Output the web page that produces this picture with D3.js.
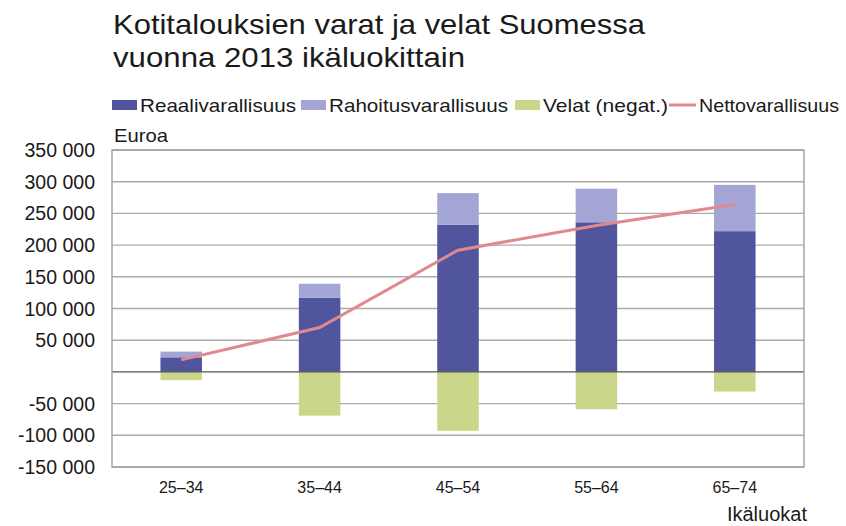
<!DOCTYPE html>
<html>
<head>
<meta charset="utf-8">
<script src="https://cdn.jsdelivr.net/npm/d3@7"></script>
<style>
  body { margin: 0; background: #fff; }
  text { font-family: "Liberation Sans", Arial, sans-serif; fill: #1a1a1a; }
</style>
</head>
<body>
<div id="chart"></div>
<script>
// data
var categories = ["25–34", "35–44", "45–54", "55–64", "65–74"];
var reaali = [23000, 117000, 232000, 236000, 222000];
var rahoitus = [9000, 22000, 50000, 53000, 73000];
var velat = [-13000, -69000, -93000, -59000, -31000];
var netto = [19000, 70000, 192000, 231000, 264000];
var yTicks = [-150000, -100000, -50000, 0, 50000, 100000, 150000, 200000, 250000, 300000, 350000];

var colors = {
    reaali: "#50559e",
    rahoitus: "#a3a5d4",
    velat: "#cad68a",
    netto: "#e0898e"
};

function drawChart() {
    var width = 846, height = 526;
    var margin = {top: 150, right: 42, bottom: 59, left: 112};

    var svg = d3.select("#chart")
      .append("svg")
        .attr("width", width)
        .attr("height", height);

    var x = d3.scaleBand()
        .domain(categories)
        .range([margin.left, width - margin.right])
        .paddingInner(0.7)
        .paddingOuter(0.35);

    var y = d3.scaleLinear()
        .domain([-150000, 350000])
        .range([height - margin.bottom, margin.top]);

    // title (source font is a bit wider than Liberation, so stretch it)
    svg.append("text")
        .attr("x", 113).attr("y", 34)
        .attr("font-size", "28px")
        .attr("textLength", 532)
        .attr("lengthAdjust", "spacingAndGlyphs")
        .text("Kotitalouksien varat ja velat Suomessa");
    svg.append("text")
        .attr("x", 113).attr("y", 67)
        .attr("font-size", "28px")
        .attr("textLength", 352)
        .attr("lengthAdjust", "spacingAndGlyphs")
        .text("vuonna 2013 ikäluokittain");

    // legend
    var legend = [
        {label: "Reaalivarallisuus", color: colors.reaali, x: 112, w: 156, type: "rect"},
        {label: "Rahoitusvarallisuus", color: colors.rahoitus, x: 301, w: 179, type: "rect"},
        {label: "Velat (negat.)", color: colors.velat, x: 515, w: 125, type: "rect"},
        {label: "Nettovarallisuus", color: colors.netto, x: 669, w: 140, type: "line"}
    ];
    var lg = svg.append("g").selectAll("g")
      .data(legend)
      .enter()
      .append("g")
        .attr("transform", d => `translate(${d.x},105)`);
    lg.filter(d => d.type == "rect").append("rect")
        .attr("x", 0).attr("y", -5)
        .attr("width", 25).attr("height", 10)
        .attr("fill", d => d.color);
    lg.filter(d => d.type == "line").append("line")
        .attr("x1", 0).attr("x2", 27)
        .attr("stroke", d => d.color)
        .attr("stroke-width", 3);
    lg.append("text")
        .attr("x", d => d.type == "line" ? 30 : 28)
        .attr("y", 7)
        .attr("font-size", "18.5px")
        .attr("textLength", d => d.w)
        .attr("lengthAdjust", "spacingAndGlyphs")
        .text(d => d.label);

    svg.append("text")
        .attr("x", 114).attr("y", 142)
        .attr("font-size", "18.5px")
        .attr("textLength", 54)
        .attr("lengthAdjust", "spacingAndGlyphs")
        .text("Euroa");

    // grid
    svg.append("g")
      .selectAll("line")
      .data(yTicks.filter(d => d != 0))
      .enter()
      .append("line")
        .attr("x1", margin.left).attr("x2", width - margin.right)
        .attr("y1", d => y(d)).attr("y2", d => y(d))
        .attr("stroke", "#ababab")
        .attr("stroke-width", 1.4);

    // y tick labels
    svg.append("g")
      .selectAll("text")
      .data(yTicks.filter(d => d != 0))
      .enter()
      .append("text")
        .attr("x", 95)
        .attr("y", d => y(d))
        .attr("dy", "0.36em")
        .attr("text-anchor", "end")
        .attr("font-size", "19.5px")
        .text(d => (d < 0 ? "-" : "") + d3.format(",")(Math.abs(d)).replace(/,/g, " "));

    // bars
    var bars = svg.append("g");
    categories.forEach((c, i) => {
        var segs = [
            {y0: 0, y1: reaali[i], color: colors.reaali},
            {y0: reaali[i], y1: reaali[i] + rahoitus[i], color: colors.rahoitus},
            {y0: velat[i], y1: 0, color: colors.velat}
        ];
        bars.selectAll(null)
          .data(segs)
          .enter()
          .append("rect")
            .attr("x", x(c))
            .attr("width", x.bandwidth())
            .attr("y", d => y(d.y1))
            .attr("height", d => y(d.y0) - y(d.y1))
            .attr("fill", d => d.color);
    });

    // zero line
    svg.append("line")
        .attr("x1", margin.left).attr("x2", width - margin.right)
        .attr("y1", y(0)).attr("y2", y(0))
        .attr("stroke", "#555")
        .attr("stroke-width", 1.2);

    // frame
    svg.append("rect")
        .attr("x", margin.left).attr("y", margin.top)
        .attr("width", width - margin.right - margin.left)
        .attr("height", height - margin.bottom - margin.top)
        .attr("fill", "none")
        .attr("stroke", "#a0a0a0")
        .attr("stroke-width", 1.4);

    // net line
    var line = d3.line()
        .x((d, i) => x(categories[i]) + x.bandwidth() / 2)
        .y(d => y(d));
    svg.append("path")
        .datum(netto)
        .attr("d", line)
        .attr("fill", "none")
        .attr("stroke", colors.netto)
        .attr("stroke-width", 3);

    // x labels
    svg.append("g")
      .selectAll("text")
      .data(categories)
      .enter()
      .append("text")
        .attr("x", d => x(d) + x.bandwidth() / 2)
        .attr("y", 493)
        .attr("text-anchor", "middle")
        .attr("font-size", "16px")
        .text(d => d);

    svg.append("text")
        .attr("x", 807).attr("y", 521)
        .attr("text-anchor", "end")
        .attr("font-size", "20px")
        .text("Ikäluokat");
}

drawChart();
</script>
</body>
</html>
